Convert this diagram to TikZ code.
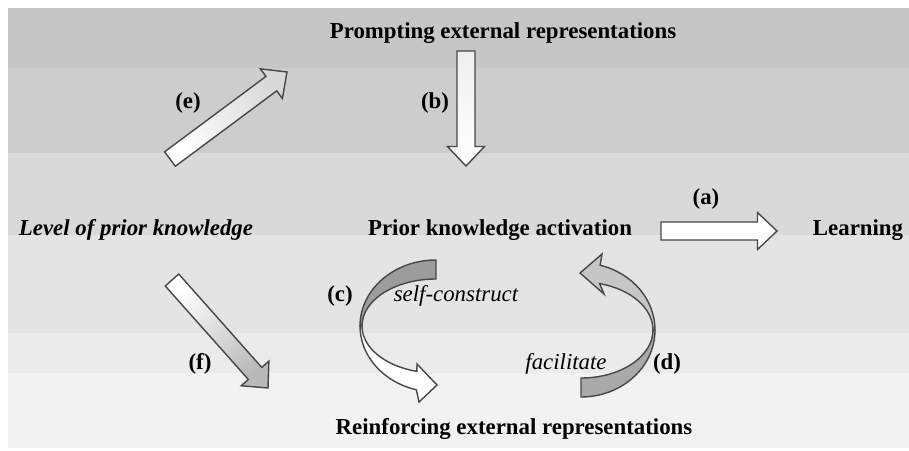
\documentclass[tikz,border=0pt]{standalone}
\usepackage{fontspec}
\setmainfont{Liberation Serif}
\usetikzlibrary{calc}
\definecolor{bandA}{HTML}{C6C6C6}
\definecolor{bandB}{HTML}{CDCDCD}
\definecolor{bandC}{HTML}{D9D9D9}
\definecolor{bandD}{HTML}{E4E4E4}
\definecolor{bandE}{HTML}{EBEBEB}
\definecolor{bandF}{HTML}{F2F2F2}
\definecolor{edge}{HTML}{474747}
\definecolor{cback}{HTML}{9C9C9C}
\definecolor{dback}{HTML}{A9A9A9}
\definecolor{dfront}{HTML}{C6C6C6}
\newcommand{\barrow}[3]{%
  \coordinate (hb) at ($(#2)!0.39cm!(#1)$);
  \draw[arrowline,#3] ($(#1)!0.18cm!90:(#2)$) -- ($(hb)!0.18cm!-90:(#1)$) -- ($(hb)!0.37cm!-90:(#1)$) -- (#2) -- ($(hb)!0.37cm!90:(#1)$) -- ($(hb)!0.18cm!90:(#1)$) -- ($(#1)!0.18cm!-90:(#2)$) -- cycle;}
\begin{document}
\begin{tikzpicture}[x=0.02cm,y=-0.02cm,
  lbl/.style={font=\fontsize{13}{15}\selectfont\bfseries, inner sep=0pt},
  ital/.style={font=\fontsize{13}{15}\selectfont\itshape, inner sep=0pt},
  arrowline/.style={draw=edge, line width=0.8pt, line join=miter}]
\useasboundingbox (0,0) rectangle (909,450);
\fill[white] (0,0) rectangle (909,450);
% background bands
\fill[bandA] (8,8) rectangle (909,68);
\fill[bandB] (8,68) rectangle (909,153);
\fill[bandC] (8,153) rectangle (909,235);
\fill[bandD] (8,235) rectangle (909,333);
\fill[bandE] (8,333) rectangle (909,373);
\fill[bandF] (8,373) rectangle (909,448);
% texts
\node[lbl] (prompt) at (503,33) {Prompting external representations};
\node[lbl] (pka) at (500,230) {Prior knowledge activation};
\node[lbl] (learn) at (858,230) {Learning};
\node[lbl, font=\fontsize{13}{15}\selectfont\bfseries\itshape] (level) at (136,230) {Level of prior knowledge};
\node[lbl] (reinf) at (514,429) {Reinforcing external representations};
\node[lbl] (le) at (188,103) {(e)};
\node[lbl] (lb) at (435,103) {(b)};
\node[lbl] (la) at (706,199) {(a)};
\node[lbl] (lc) at (340,296) {(c)};
\node[lbl] (ld) at (667,364) {(d)};
\node[lbl] (lf) at (200,364) {(f)};
\node[ital] (self) at (456,296) {self-construct};
\node[ital] (faci) at (566,364) {facilitate};
% straight block arrows
\coordinate (eA) at (170,159); \coordinate (eB) at (287,72);
\coordinate (bA) at (466,51);  \coordinate (bB) at (466,166);
\coordinate (aA) at (661,231); \coordinate (aB) at (777,231);
\coordinate (fA) at (172,280); \coordinate (fB) at (268,388);
\barrow{eA}{eB}{top color=gray!30, bottom color=white, shading angle=-53}
\barrow{bA}{bB}{top color=gray!12, bottom color=white}
\barrow{aA}{aB}{fill=white}
\barrow{fA}{fB}{top color=white, bottom color=gray!55, shading angle=41}
% curved arrow (c)
\draw[arrowline, fill=cback] (436,260) arc[start angle=270, end angle=180, x radius=76, y radius=66]
  -- (362,326) arc[start angle=180, end angle=270, x radius=74, y radius=47] -- cycle;
\draw[arrowline, fill=white] (360,326) arc[start angle=180, end angle=105, x radius=76, y radius=66]
  -- (419,402) -- (437,385) -- (417,364) -- (416.85,371.4)
  arc[start angle=105, end angle=180, x radius=74, y radius=47] -- cycle;
% curved arrow (d)
\draw[arrowline, fill=dback] (581,397) arc[start angle=90, end angle=0, x radius=74, y radius=67]
  -- (653,330) arc[start angle=0, end angle=90, x radius=72, y radius=48] -- cycle;
\draw[arrowline, fill=dfront] (655,330) arc[start angle=0, end angle=-75, x radius=74, y radius=67]
  -- (602,254) -- (580,273) -- (604,294) -- (599.6,283.6)
  arc[start angle=-75, end angle=0, x radius=72, y radius=48] -- cycle;
\end{tikzpicture}
\end{document}
